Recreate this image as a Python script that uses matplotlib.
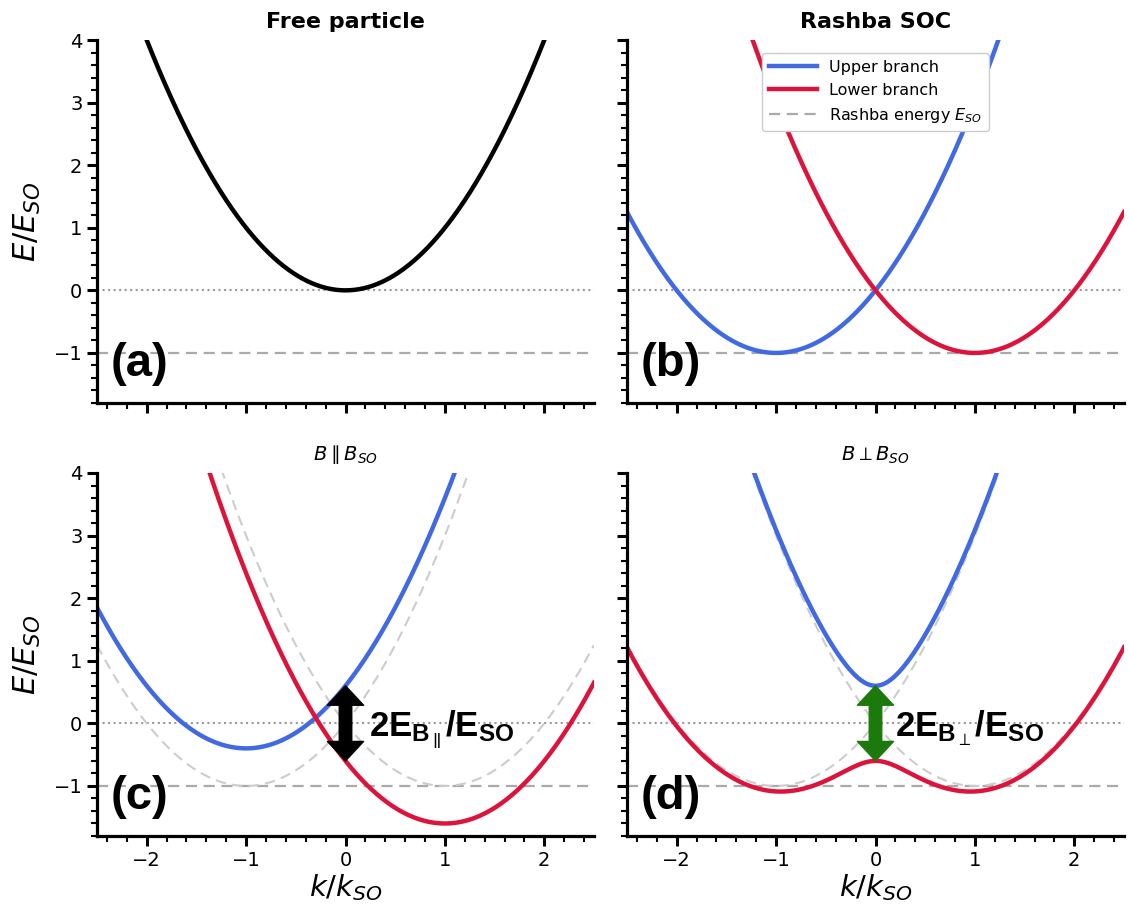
import numpy as np
import matplotlib
matplotlib.use('Agg')
import matplotlib.pyplot as plt
from matplotlib.patches import FancyArrowPatch

# parameters (units of k_SO and E_SO)
k_limits = [-2.5, 2.5]
e_limits = [-1.8, 4.0]
rashba_energy = -1.0      # band minimum of the Rashba bands
zeeman_energy = 0.6       # E_B / E_SO, half the gap at k = 0
x_ticks = [-2, -1, 0, 1, 2]
y_ticks = [-1, 0, 1, 2, 3, 4]
panel_labels = ['(a)', '(b)', '(c)', '(d)']
col_titles = ['Free particle', 'Rashba SOC']
row2_titles = [r'$B \parallel B_{SO}$', r'$B \perp B_{SO}$']
legend_labels = ['Upper branch', 'Lower branch', r'Rashba energy $E_{SO}$']

BLUE = '#4169E1'
RED = '#DC143C'
GREEN = '#1c7a0c'

plt.rcParams['mathtext.bf'] = 'Liberation Sans:bold'
plt.rcParams['mathtext.rm'] = 'Liberation Sans'
plt.rcParams['mathtext.it'] = 'Liberation Sans:italic'
plt.rcParams['mathtext.sf'] = 'DejaVu Sans:bold'

k = np.linspace(k_limits[0], k_limits[1], 600)
free = k ** 2
upper = k ** 2 + 2 * k
lower = k ** 2 - 2 * k
par_upper = upper + zeeman_energy
par_lower = lower - zeeman_energy
perp_upper = k ** 2 + np.sqrt(4 * k ** 2 + zeeman_energy ** 2)
perp_lower = k ** 2 - np.sqrt(4 * k ** 2 + zeeman_energy ** 2)

fig = plt.figure(figsize=(11.29, 9.14), dpi=100)
w, h = 497 / 1129, 363 / 914
x0s = [97 / 1129, 627 / 1129]
y0s = [1 - 403 / 914, 1 - 836 / 914]
axes = [[fig.add_axes([x0s[c], y0s[r], w, h]) for c in range(2)] for r in range(2)]

for r in range(2):
    for c in range(2):
        ax = axes[r][c]
        ax.set_xlim(k_limits)
        ax.set_ylim(e_limits)
        ax.set_xticks(x_ticks)
        ax.set_yticks(y_ticks)
        ax.set_xticks(np.arange(-2.4, 2.41, 0.2), minor=True)
        ax.set_yticks(np.arange(-1.8, 4.01, 0.2), minor=True)
        for s in ['top', 'right']:
            ax.spines[s].set_visible(False)
        for s in ['left', 'bottom']:
            ax.spines[s].set_linewidth(2.3)
        ax.tick_params(which='major', length=7, width=2.2, labelsize=14, direction='out')
        ax.tick_params(which='minor', length=4, width=1.5, direction='out')
        if r == 0:
            ax.tick_params(labelbottom=False)
        else:
            ax.set_xlabel(r'$k/k_{SO}$', fontsize=21, labelpad=2)
        if c == 1:
            ax.tick_params(labelleft=False)
        else:
            ax.set_ylabel(r'$E/E_{SO}$', fontsize=22, labelpad=8)
        ax.axhline(0, color='#999999', lw=1.5, ls=':', zorder=1)
        ax.axhline(rashba_energy, color='#aaaaaa', lw=1.6, ls='--', dashes=(5, 3), zorder=1,
                   label=legend_labels[2] if (r, c) == (0, 1) else None)
        ax.text(0.028, 0.075, panel_labels[2 * r + c], transform=ax.transAxes,
                fontsize=34, fontweight='bold', family='Liberation Sans', ha='left', va='baseline')

# (a) free particle
ax = axes[0][0]
ax.plot(k, free, color='black', lw=3.2)
ax.set_title(col_titles[0], fontsize=16, fontweight='bold', pad=9)

# (b) Rashba
ax = axes[0][1]
ax.plot(k, upper, color=BLUE, lw=3.2, label=legend_labels[0])
ax.plot(k, lower, color=RED, lw=3.2, label=legend_labels[1])
ax.set_title(col_titles[1], fontsize=16, fontweight='bold', pad=9)
handles, labels = ax.get_legend_handles_labels()
order = [labels.index(l) for l in legend_labels]
ax.legend([handles[i] for i in order], [labels[i] for i in order], loc='upper center',
          fontsize=11.5, handlelength=3, framealpha=1, edgecolor='#cccccc',
          bbox_to_anchor=(0.5, 0.985))


def double_arrow(ax, y_top, y_bot, color):
    mid = (y_top + y_bot) / 2
    for end in [y_top, y_bot]:
        ax.add_patch(FancyArrowPatch((0, mid), (0, end), mutation_scale=10,
                                     arrowstyle='simple,head_width=2.6,head_length=1.4,tail_width=0.9',
                                     color=color, shrinkA=0, shrinkB=0, zorder=5))


# (c) parallel field
ax = axes[1][0]
ax.plot(k, upper, color='#cccccc', lw=1.5, ls='--', dashes=(5, 3))
ax.plot(k, lower, color='#cccccc', lw=1.5, ls='--', dashes=(5, 3))
ax.plot(k, par_upper, color=BLUE, lw=3.2)
ax.plot(k, par_lower, color=RED, lw=3.2)
double_arrow(ax, zeeman_energy, -zeeman_energy, 'black')
ax.text(0.24, -0.2, r'$\mathbf{2E_{B_{\parallel}}/E_{SO}}$', fontsize=25,
        math_fontfamily='custom', ha='left', va='baseline')
ax.set_title(row2_titles[0], fontsize=14, pad=9)

# (d) perpendicular field
ax = axes[1][1]
ax.plot(k, upper, color='#cccccc', lw=1.5, ls='--', dashes=(5, 3))
ax.plot(k, lower, color='#cccccc', lw=1.5, ls='--', dashes=(5, 3))
ax.plot(k, perp_upper, color=BLUE, lw=3.2)
ax.plot(k, perp_lower, color=RED, lw=3.2)
double_arrow(ax, zeeman_energy, -zeeman_energy, GREEN)
ax.text(0.2, -0.2, r'$\mathbf{2E_{B_{\mathsf{\perp}}}/E_{SO}}$', fontsize=25,
        math_fontfamily='custom', ha='left', va='baseline')
ax.set_title(row2_titles[1], fontsize=14, pad=9)

fig.savefig('out.png', dpi=100)
